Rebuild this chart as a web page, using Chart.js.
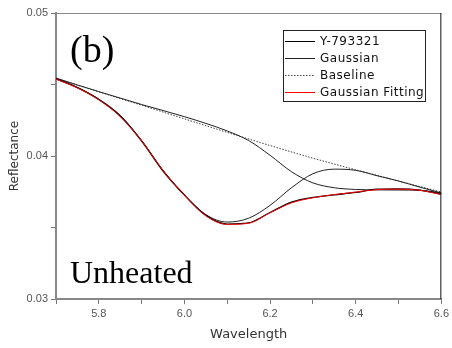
<!DOCTYPE html>
<html>
<head>
<meta charset="utf-8">
<script src="https://cdn.jsdelivr.net/npm/chart.js@4"></script>
<style>
  html, body { margin: 0; padding: 0; background: #fff; }
</style>
</head>
<body>
<canvas id="chart" width="452" height="348"></canvas>
<script>
// wavelength grid shared by the measured / fitted / gaussian curves
const wavelengths = [5.70, 5.75, 5.80, 5.85, 5.90, 5.95, 6.00, 6.05, 6.10, 6.15,
                     6.20, 6.25, 6.30, 6.35, 6.40, 6.45, 6.50, 6.55, 6.60];

const measured = [0.04540, 0.04478, 0.04395, 0.04280, 0.04105, 0.03895, 0.03727, 0.03585, 0.03524, 0.03532,
                  0.03605, 0.03677, 0.03710, 0.03728, 0.03745, 0.03768, 0.03770, 0.03762, 0.03733];

const fitting = [0.04538, 0.04476, 0.04393, 0.04276, 0.04106, 0.03898, 0.03725, 0.03582, 0.03522, 0.03530,
                 0.03603, 0.03672, 0.03708, 0.03730, 0.03748, 0.03765, 0.03768, 0.03760, 0.03730];

// gaussian band near 6.1
const gaussian1 = [0.04542, 0.04480, 0.04398, 0.04284, 0.04108, 0.03900, 0.03725, 0.03590, 0.03538, 0.03565,
                   0.03655, 0.03778, 0.03876, 0.03908, 0.03900, 0.03862, 0.03825, 0.03782, 0.03741];

// gaussian band near 6.45
const gaussian2 = [0.04545, 0.04497, 0.04450, 0.04405, 0.04360, 0.04318, 0.04275, 0.04228, 0.04175, 0.04108,
                   0.04005, 0.03890, 0.03812, 0.03778, 0.03766, 0.03763, 0.03762, 0.03760, 0.03742];

const baselineX = [5.70, 5.90, 6.10, 6.30, 6.50, 6.60];
const baselineY = [0.04542, 0.04355, 0.04165, 0.03985, 0.03825, 0.03748];

const xTickLabels = ["5.8", "6.0", "6.2", "6.4", "6.6"];
const yTickLabels = ["0.03", "0.04", "0.05"];

const legendItems = [
    { text: "Y-793321", color: "#000", dash: [] },
    { text: "Gaussian", color: "#222", dash: [] },
    { text: "Baseline", color: "#444", dash: [1.5, 1.5] },
    { text: "Gaussian Fitting", color: "#ff0000", dash: [] },
];

function pts(xs, ys) {
    return xs.map((x, i) => ({ x: x, y: ys[i] }));
}

const extras = {
    id: "extras",
    afterDraw(chart) {
        const ctx = chart.ctx;
        const a = chart.chartArea;
        ctx.save();
        // top and right frame
        ctx.lineWidth = 1;
        ctx.strokeStyle = "#888";
        ctx.beginPath();
        ctx.moveTo(a.left, a.top + 0.5);
        ctx.lineTo(a.right, a.top + 0.5);
        ctx.stroke();
        ctx.strokeStyle = "#111";
        ctx.beginPath();
        ctx.moveTo(a.right - 0.5, a.top);
        ctx.lineTo(a.right - 0.5, a.bottom);
        ctx.stroke();

        // panel texts
        ctx.fillStyle = "#000";
        ctx.textBaseline = "alphabetic";
        ctx.textAlign = "left";
        ctx.font = "38px 'Liberation Serif'";
        ctx.fillText("(b)", 70, 62);
        ctx.font = "32px 'Liberation Serif'";
        ctx.fillText("Unheated", 70, 283);

        // legend box
        const bx = 283, by = 30, bw = 142, bh = 71;
        ctx.fillStyle = "#fff";
        ctx.fillRect(bx, by, bw, bh);
        ctx.strokeStyle = "#222";
        ctx.lineWidth = 1;
        ctx.strokeRect(bx + 0.5, by + 0.5, bw, bh);
        ctx.font = "12px 'DejaVu Sans'";
        ctx.letterSpacing = "0.5px";
        ctx.textBaseline = "middle";
        legendItems.forEach((it, i) => {
            const y = by + 11 + i * 17;
            ctx.strokeStyle = it.color;
            ctx.setLineDash(it.dash);
            ctx.beginPath();
            ctx.moveTo(bx + 2, y + 0.5);
            ctx.lineTo(bx + 32, y + 0.5);
            ctx.stroke();
            ctx.setLineDash([]);
            ctx.fillStyle = "#111";
            ctx.fillText(it.text, bx + 37, y + 1);
        });
        ctx.restore();
    }
};

new Chart(document.getElementById("chart"), {
    type: "line",
    data: {
        datasets: [
            { label: "Gaussian Fitting", data: pts(wavelengths, fitting), borderColor: "#ff0000", borderWidth: 1, order: 0 },
            { label: "Y-793321", data: pts(wavelengths, measured), borderColor: "#000", borderWidth: 1.3, order: 1 },
            { label: "Gaussian", data: pts(wavelengths, gaussian1), borderColor: "#222", borderWidth: 1, order: 2 },
            { label: "Gaussian", data: pts(wavelengths, gaussian2), borderColor: "#222", borderWidth: 1, order: 2 },
            { label: "Baseline", data: pts(baselineX, baselineY), borderColor: "#444", borderWidth: 1, borderDash: [1.5, 1.5], order: 3 },
        ]
    },
    options: {
        responsive: false,
        animation: false,
        devicePixelRatio: 1,
        layout: { padding: { top: 13, right: 9, left: 0, bottom: 0 } },
        elements: {
            point: { radius: 0 },
            line: { cubicInterpolationMode: "monotone", fill: false }
        },
        plugins: { legend: { display: false }, tooltip: { enabled: false } },
        scales: {
            x: {
                type: "linear",
                min: 5.7,
                max: 6.6,
                afterFit: (s) => { s.height = 49; },
                afterBuildTicks: (s) => {
                    s.ticks = [5.7, 5.8, 5.9, 6.0, 6.1, 6.2, 6.3, 6.4, 6.5, 6.6].map(v => ({ value: v }));
                },
                ticks: {
                    autoSkip: false,
                    maxRotation: 0,
                    padding: 3,
                    color: "#555",
                    font: { family: "'Liberation Sans'", size: 11 },
                    callback: (v) => {
                        const t = Number(v).toFixed(1);
                        return xTickLabels.includes(t) ? t : "";
                    }
                },
                grid: { drawOnChartArea: false, tickLength: 5, color: "#777", tickWidth: 1 },
                border: { color: "#888", width: 2 },
                title: {
                    display: true, text: "Wavelength", color: "#333",
                    font: { family: "'DejaVu Sans'", size: 13 },
                    padding: { top: 0, bottom: 6 }
                }
            },
            y: {
                type: "linear",
                min: 0.03,
                max: 0.05,
                afterFit: (s) => { s.width = 56; },
                afterBuildTicks: (s) => {
                    s.ticks = [0.03, 0.035, 0.04, 0.045, 0.05].map(v => ({ value: v }));
                },
                ticks: {
                    padding: 3,
                    color: "#555",
                    font: { family: "'Liberation Sans'", size: 11 },
                    callback: (v) => {
                        const t = Number(v).toFixed(2);
                        return (yTickLabels.includes(t) && Math.abs(Number(t) - v) < 1e-6) ? t : "";
                    }
                },
                grid: { drawOnChartArea: false, tickLength: 5, color: "#777", tickWidth: 1 },
                border: { color: "#888", width: 2 },
                title: {
                    display: true, text: "Reflectance", color: "#333",
                    font: { family: "'DejaVu Sans'", size: 12 },
                    padding: { top: 8, bottom: 0 }
                }
            }
        }
    },
    plugins: [extras]
});
</script>
</body>
</html>
